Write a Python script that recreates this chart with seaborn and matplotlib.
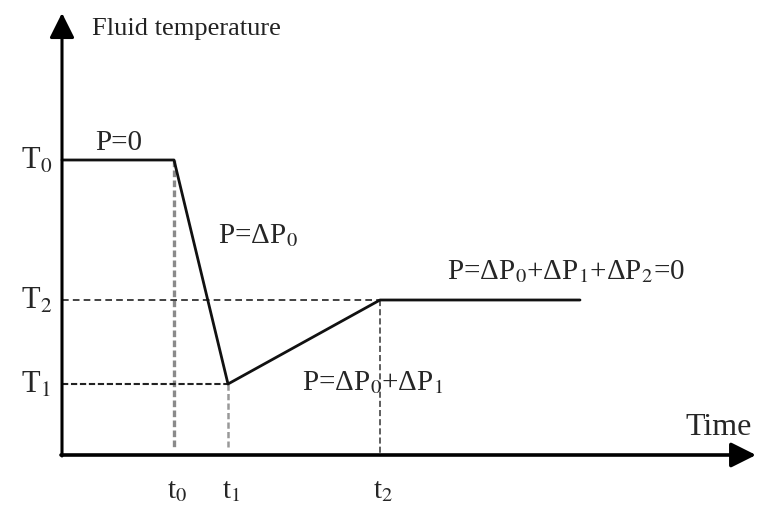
import matplotlib
matplotlib.use("Agg")
import matplotlib.pyplot as plt
import seaborn as sns

# schematic curve (time, fluid temperature) in arbitrary units
time_pts = [0, 112, 166, 318, 518]
temp_pts = [295, 295, 71, 155, 155]

# characteristic times / temperatures
t_vals = [112, 166, 318]
t_labels = ["t$_0$", "t$_1$", "t$_2$"]
T_vals = [295, 155, 71]
T_labels = ["T$_0$", "T$_2$", "T$_1$"]

# pressure annotations
p_labels = ["P=0",
            "P=ΔP$_0$",
            "P=ΔP$_0$+ΔP$_1$+ΔP$_2$=0",
            "P=ΔP$_0$+ΔP$_1$"]
p_pos = [(33, 313), (156, 220), (385, 184), (240, 73)]

sns.set_theme(style="white")
plt.rcParams["mathtext.fontset"] = "stix"
plt.rcParams["font.family"] = ["Liberation Serif", "DejaVu Serif"]

fig = plt.figure(figsize=(7.62, 5.06), dpi=100)
ax = fig.add_axes([0, 0, 1, 1])
ax.set_xlim(-62, 700)
ax.set_ylim(-50, 456)
ax.axis("off")

# axes arrows
ax.annotate("", xy=(0, 442), xytext=(0, -1),
            arrowprops=dict(arrowstyle="-|>", lw=2.2, color="black",
                            mutation_scale=38, shrinkA=0, shrinkB=0))
ax.annotate("", xy=(694, 0), xytext=(-1, 0),
            arrowprops=dict(arrowstyle="-|>", lw=2.6, color="black",
                            mutation_scale=38, shrinkA=0, shrinkB=0))

# guide lines
ax.plot([t_vals[0], t_vals[0]], [T_vals[0], 8], color="#8a8a8a", lw=2.4,
        ls=(0, (2, 1)))
ax.plot([t_vals[1], t_vals[1]], [T_vals[2], 8], color="#999999", lw=1.8,
        ls=(0, (2.5, 1.3)))
ax.plot([t_vals[2], t_vals[2]], [T_vals[1], 0], color="#333333", lw=1.1,
        ls=(0, (4, 2)))
ax.plot([0, t_vals[2]], [T_vals[1], T_vals[1]], color="#222222", lw=1.2,
        ls=(0, (4, 2.5)))
ax.plot([0, t_vals[1]], [T_vals[2], T_vals[2]], color="#222222", lw=1.5,
        ls=(0, (3, 1.3)))

# main curve
sns.lineplot(x=time_pts, y=temp_pts, sort=False, estimator=None,
             color="#111111", lw=2.0, ax=ax)

for tv, tl in zip(t_vals, t_labels):
    ax.text(tv + 3, -35, tl, fontsize=21, ha="center", va="center")
for Tv, Tl in zip(T_vals, T_labels):
    ax.text(-41, Tv, Tl, fontsize=22, ha="left", va="center")
for (px, py), pl in zip(p_pos, p_labels):
    ax.text(px, py, pl, fontsize=21, ha="left", va="center")

ax.text(30, 427, "Fluid temperature", fontsize=19, ha="left", va="center",
        color="#222222")
ax.text(623, 28, "Time", fontsize=23, ha="left", va="center")

fig.savefig("out.png", dpi=100)
